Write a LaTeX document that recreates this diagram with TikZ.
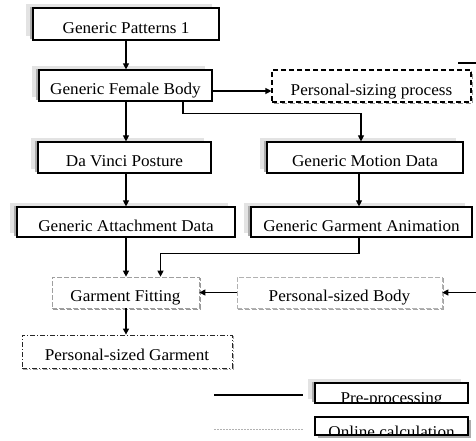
\documentclass[tikz,border=0pt]{standalone}
\usepackage{fontspec}
\setmainfont{Liberation Serif}[FakeStretch=1.04]
\usetikzlibrary{arrows.meta,shadows}
\begin{document}
\begin{tikzpicture}[x=1pt,y=-1pt,
  every node/.style={font=\fontsize{16.5}{18}\selectfont, inner sep=0pt, text height=18pt, text depth=0pt},
  solidbox/.style={draw=black, line width=1.2pt, fill=white,
     general shadow={fill=gray!22, draw=none, shadow xshift=-7pt, shadow yshift=4pt},
     general shadow={fill=gray!65, draw=none, shadow xshift=-3pt, shadow yshift=1.5pt}},
  onlinebox/.style={draw=black, line width=1.2pt, fill=white,
     general shadow={fill=gray!65, draw=none, shadow xshift=3pt, shadow yshift=-3pt}},
  sizingbox/.style={draw=black, line width=1.1pt, dash pattern=on 5pt off 3pt, fill=white,
     general shadow={draw=gray!80, line width=1.1pt, dash pattern=on 5pt off 3pt, shadow xshift=1.5pt, shadow yshift=-1.5pt}},
  fitbox/.style={draw=gray!75, line width=0.7pt, dash pattern=on 5pt off 2pt, fill=white,
     general shadow={draw=gray!80, line width=0.7pt, shadow xshift=1.2pt, shadow yshift=-1.2pt}},
  bodybox/.style={draw=gray!60, line width=0.6pt, dash pattern=on 5pt off 2pt, fill=white,
     general shadow={draw=gray!70, line width=0.7pt, shadow xshift=1.2pt, shadow yshift=-1.2pt}},
  garmbox/.style={draw=black!85, line width=0.8pt, dash pattern=on 5pt off 2pt on 1pt off 2pt, fill=white,
     general shadow={draw=gray!70, line width=0.7pt, shadow xshift=1.2pt, shadow yshift=-1.2pt}},
  arr/.style={-{Triangle[length=6pt,width=6pt]}, line width=1.1pt},
  plain/.style={line width=1.2pt},
  dotline/.style={draw=gray!60, line width=0.8pt, dash pattern=on 2pt off 1pt}
]
\useasboundingbox (0,0) rectangle (476,440);

\node[solidbox, minimum width=186pt, minimum height=32pt] (n1) at (126,24) {Generic Patterns 1};
\node[solidbox, minimum width=173pt, minimum height=31pt] (n2) at (125.5,85.5) {Generic Female Body};
\node[sizingbox, minimum width=199pt, minimum height=32pt] (n3) at (371.5,86) {Personal-sizing process};
\node[solidbox, minimum width=173pt, minimum height=31pt] (n4) at (124.5,157.5) {Da Vinci Posture};
\node[solidbox, minimum width=196pt, minimum height=31pt] (n5) at (365,157.5) {Generic Motion Data};
\node[solidbox, minimum width=218pt, minimum height=30pt] (n6) at (126,222) {Generic Attachment Data};
\node[solidbox, minimum width=221pt, minimum height=30pt] (n7) at (361.5,222) {Generic Garment Animation};
\node[fitbox, minimum width=147pt, minimum height=31pt] (n8) at (125.5,292.5) {Garment Fitting};
\node[bodybox, minimum width=205pt, minimum height=31pt] (n9) at (339.5,292.5) {Personal-sized Body};
\node[garmbox, minimum width=210pt, minimum height=33pt] (n10) at (127,351.5) {Personal-sized Garment};

% legend boxes with clipped text
\node[solidbox, minimum width=153pt, minimum height=20pt, text height=0pt] (n11) at (391.5,393) {};
\node[onlinebox, minimum width=153pt, minimum height=18pt, text height=0pt] (n12) at (391.5,426) {};
\begin{scope}
  \clip (n11.north west) rectangle (n11.south east);
  \node[anchor=base, text height=0pt] (t11) at (391.5,403.5) {Pre-processing};
\end{scope}
\begin{scope}
  \clip (n12.north west) rectangle (n12.south east);
  \node[anchor=base, text height=0pt] (t12) at (391.5,437.5) {Online calculation};
\end{scope}
\draw[line width=1.2pt] (n11.north west) rectangle (n11.south east);
\draw[line width=1.2pt] (n12.north west) rectangle (n12.south east);

% legend lines
\coordinate (la) at (214,395);
\coordinate (lb) at (303,395);
\coordinate (lc) at (214,429);
\coordinate (ld) at (303,429);
\draw[plain] (la) -- (lb);
\draw[dotline] (lc) -- (ld);

% stray line top right
\coordinate (sa) at (458,63);
\coordinate (sb) at (476,63);
\draw[plain] (sa) -- (sb);

% connectors
\draw[arr] (n1.south) -- (n1.south |- n2.north);
\draw[arr] ([xshift=0.5pt]n2.south) -- ([xshift=0.5pt]n2.south |- n4.north);
\draw[arr] ([yshift=-5.5pt]n2.east) -- ([yshift=-5.5pt]n2.east -| n3.west);
\draw[arr] ([xshift=57.5pt]n2.south) -- ++(0,12) -| ([xshift=-4pt]n5.north);
\draw[arr] ([xshift=1.5pt]n4.south) -- ([xshift=1.5pt]n4.south |- n6.north);
\draw[arr] ([xshift=-6pt]n5.south) -- ([xshift=-6pt]n5.south |- n7.north);
\draw[arr] (n6.south) -- (n6.south |- n8.north);
\draw[arr] ([xshift=-2.5pt]n7.south) -- ++(0,16) -| ([xshift=35pt]n8.north);
\draw[arr] (n9.west) -- (n8.east);
\coordinate (rin) at (476,292.5);
\draw[arr] (rin) -- (n9.east);
\draw[arr] ([xshift=0.5pt]n8.south) -- ([xshift=0.5pt]n8.south |- n10.north);
\end{tikzpicture}
\end{document}
